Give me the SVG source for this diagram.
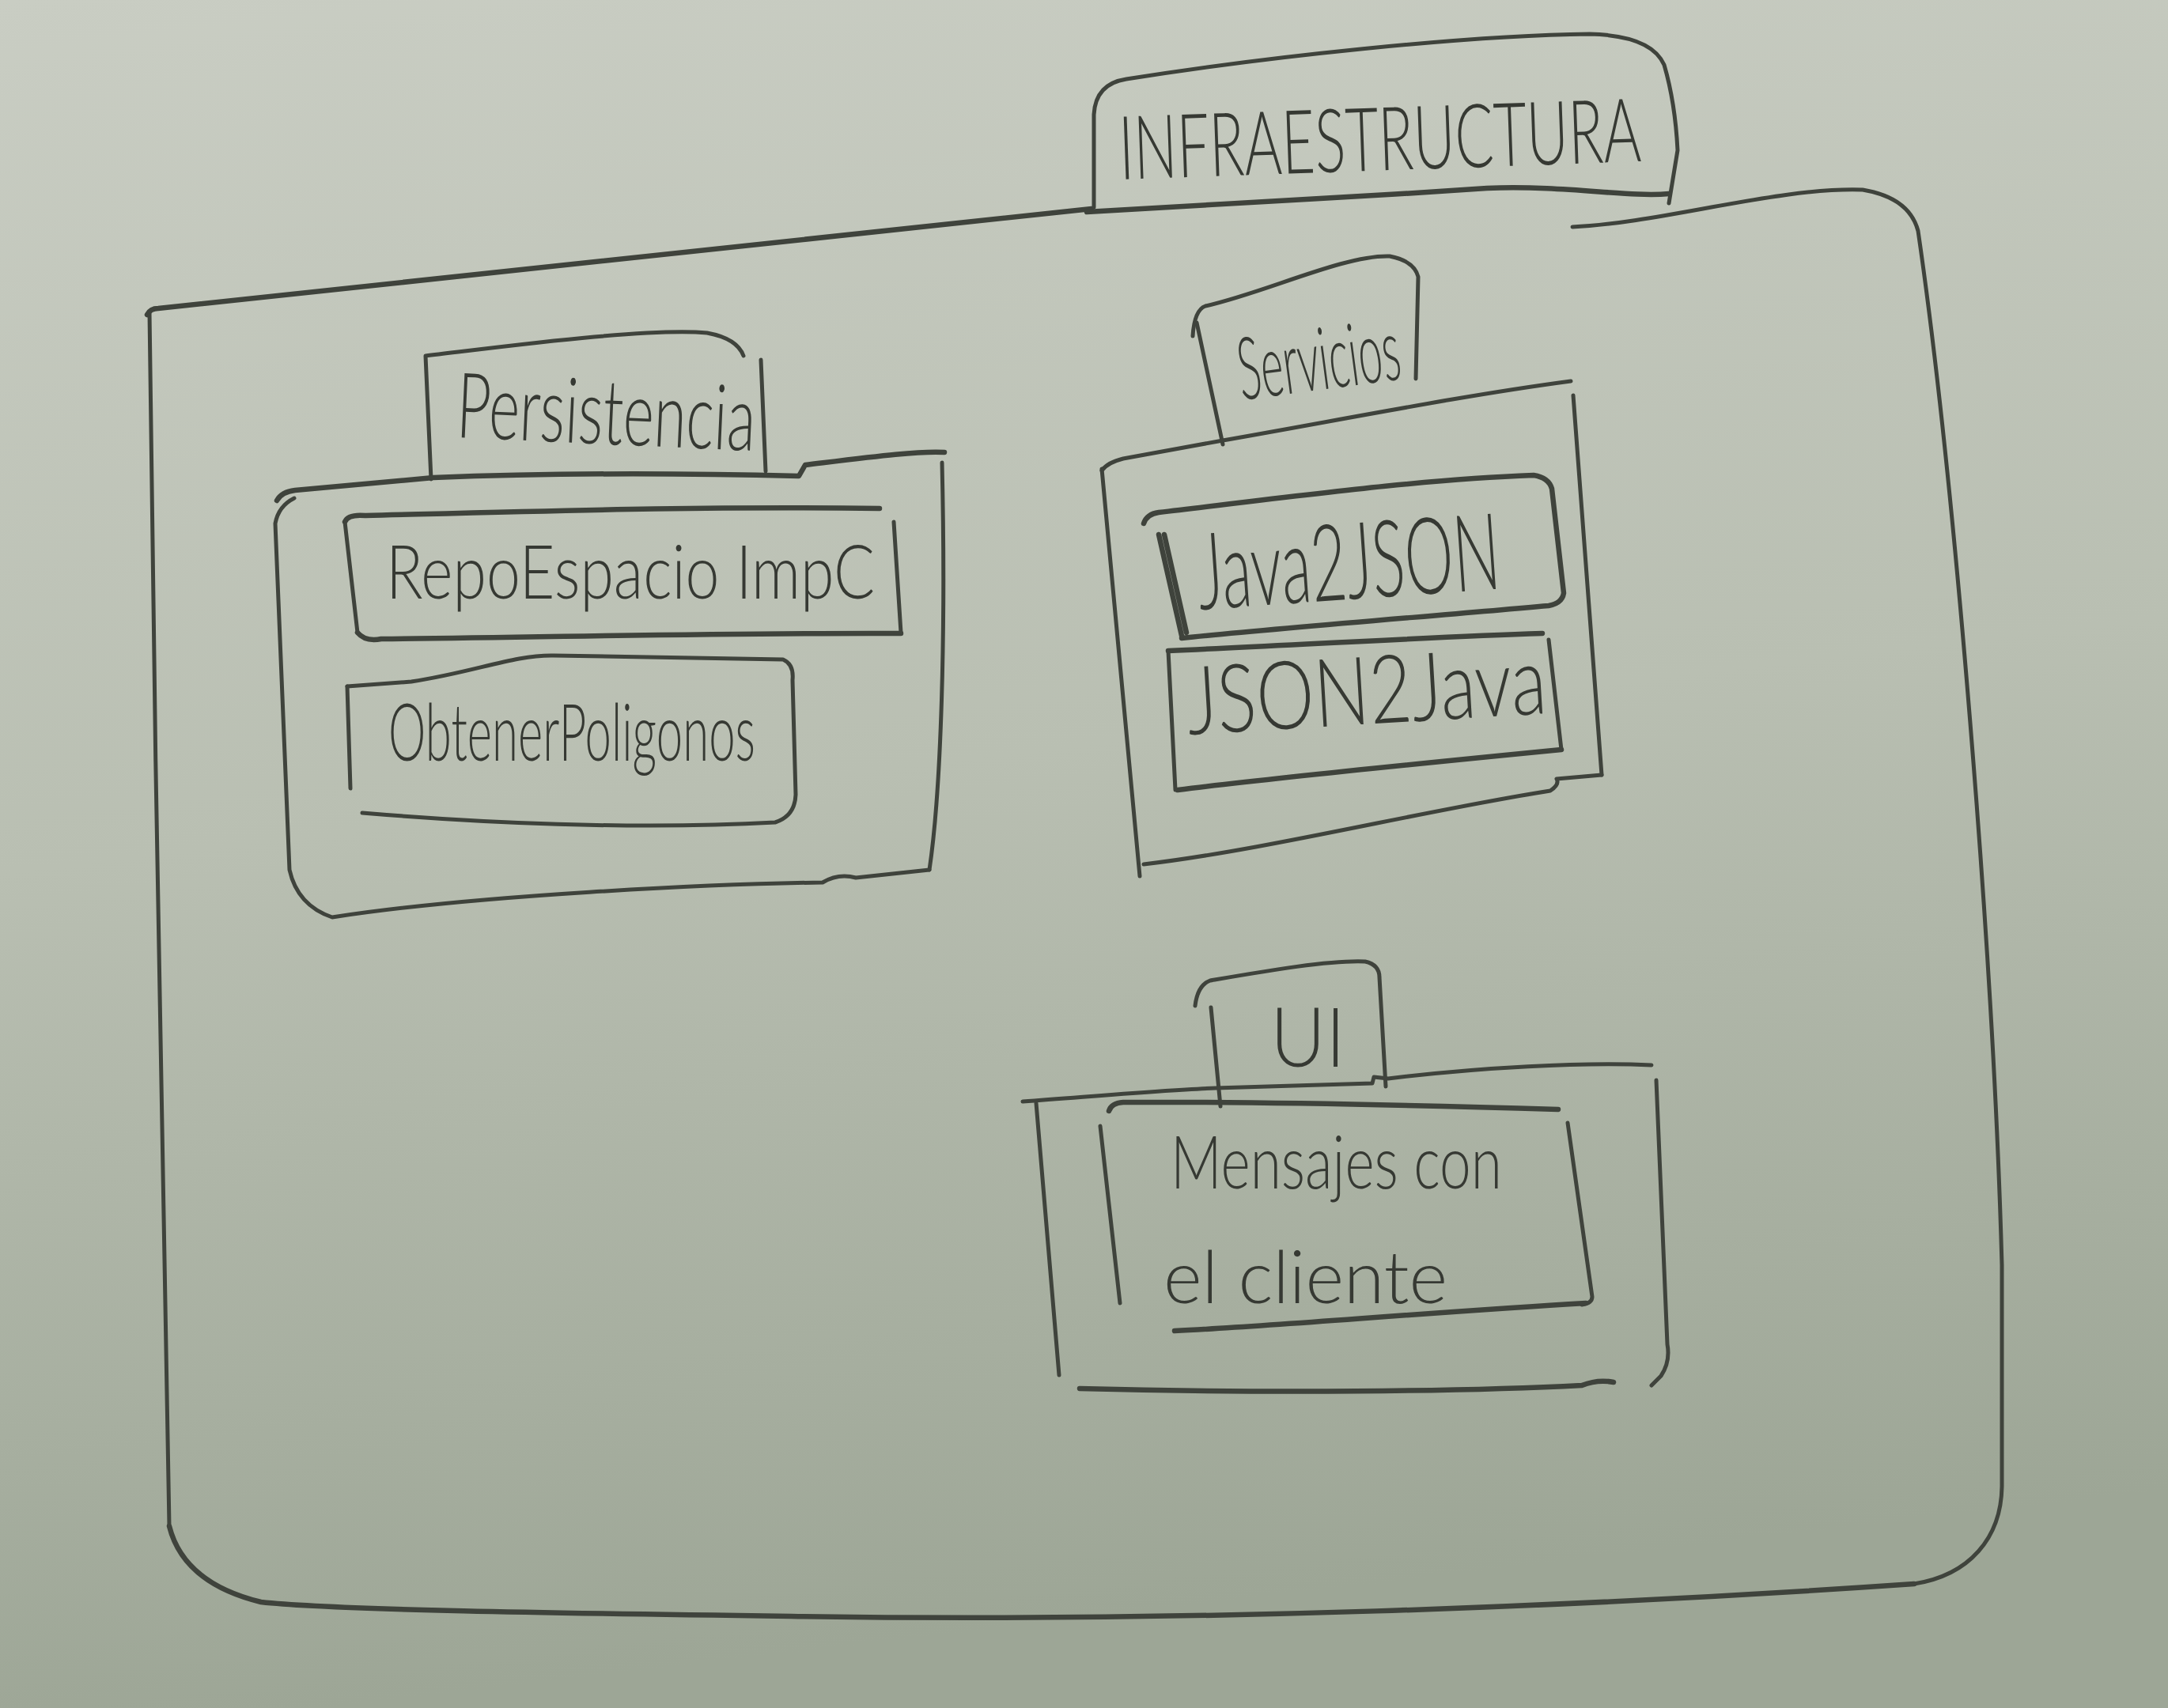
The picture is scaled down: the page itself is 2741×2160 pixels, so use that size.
<svg xmlns="http://www.w3.org/2000/svg" width="2741" height="2160" viewBox="0 0 2741 2160">
<defs>
<linearGradient id="paper" x1="0" y1="0" x2="0.15" y2="1">
<stop offset="0" stop-color="#c9cdc3"/>
<stop offset="0.5" stop-color="#b9bfb2"/>
<stop offset="1" stop-color="#9da696"/>
</linearGradient>
<style>
.ln{fill:none;stroke:#3f433c;stroke-width:5;stroke-linecap:round;stroke-linejoin:round}
.bold{stroke-width:6.5}
.t{font-family:Lato,"Liberation Sans",sans-serif;font-weight:300;fill:#363933}
</style>
</defs>
<rect width="2741" height="2160" fill="url(#paper)"/>

<g id="infraestructura">
<path class="ln bold" d="M186,398 Q190,390 200,390 L1380,264"/>
<path class="ln" d="M1383,262 L1383,145 Q1385,106 1424,100 C1600,72 1850,45 2010,43 Q2088,45 2104,82 Q2118,130 2121,190 L2110,257"/>
<path class="ln bold" d="M1374,268 C1500,262 1700,250 1880,238 C1980,234 2060,250 2110,245"/>
<path class="ln" d="M1988,287 C2100,282 2250,236 2355,240 Q2414,250 2425,292 C2470,600 2520,1200 2531,1600 L2531,1880 C2530,1945 2490,1992 2420,2003"/>
<path class="ln bold" d="M2420,2003 C2000,2032 1500,2052 1000,2044 C700,2040 420,2036 330,2026 Q232,2002 214,1930"/>
<path class="ln" d="M214,1930 C205,1500 195,900 189,395"/>
<text class="t" x="1416" y="227" font-size="112" textLength="660" lengthAdjust="spacingAndGlyphs" transform="rotate(-2 1416 227)">INFRAESTRUCTURA</text>
</g>

<g id="persistencia">
<path class="ln" d="M545,606 L538,450 C640,438 820,414 894,421 Q932,428 940,450"/>
<path class="ln" d="M962,455 L968,596"/>
<path class="ln bold" d="M350,633 Q356,622 373,620 L548,604 C700,598 850,598 1010,602 L1018,588 C1100,578 1160,570 1194,572"/>
<path class="ln" d="M1191,585 C1196,800 1190,1000 1175,1100"/>
<path class="ln" d="M372,630 Q352,640 348,662 L366,1100 Q376,1145 420,1160 C600,1132 900,1118 1040,1116 Q1060,1104 1082,1110 L1175,1100"/>
<text class="t" x="576" y="553" font-size="115" textLength="378" lengthAdjust="spacingAndGlyphs" transform="rotate(2.6 576 553)">Persistencia</text>
</g>

<g id="repoEspacio">
<path class="ln bold" d="M436,660 Q440,650 462,652 C700,646 900,640 1112,643"/>
<path class="ln" d="M1130,660 L1139,800"/>
<path class="ln bold" d="M452,800 Q462,812 482,808 C700,806 900,800 1139,801"/>
<path class="ln" d="M436,660 L452,800"/>
<text class="t" x="488" y="757" font-size="95" textLength="618" lengthAdjust="spacingAndGlyphs">RepoEspacio ImpC</text>
</g>

<g id="obtenerPoligonos">
<path class="ln" d="M439,868 L520,862 C600,850 650,828 700,829 L990,834 Q1004,840 1002,860 L1006,1005 Q1005,1032 980,1040 C800,1050 600,1040 458,1028"/>
<path class="ln" d="M439,868 L443,997"/>
<text class="t" x="491" y="962" font-size="100" textLength="464" lengthAdjust="spacingAndGlyphs">ObtenerPoligonos</text>
</g>

<g id="servicios">
<path class="ln" d="M1546,562 L1513,408"/>
<path class="ln" d="M1508,425 Q1510,392 1524,387 C1600,370 1700,322 1757,324 Q1788,330 1793,350 L1790,479"/>
<path class="ln" d="M1393,595 Q1400,585 1420,580 L1546,557 C1700,530 1850,500 1986,482"/>
<path class="ln" d="M1989,500 L2025,980"/>
<path class="ln" d="M1446,1093 C1600,1075 1800,1025 1960,1000 Q1972,992 1968,985 L2025,980"/>
<path class="ln" d="M1393,593 L1441,1108"/>
<text class="t" x="1570" y="506" font-size="110" textLength="206" lengthAdjust="spacingAndGlyphs" transform="rotate(-7.5 1570 506)">Servicios</text>
</g>

<g id="java2json">
<path class="ln bold" d="M1446,662 Q1450,650 1465,648 C1650,626 1800,606 1939,601 Q1958,604 1962,618 L1977,750 Q1975,763 1958,766 C1800,780 1600,796 1494,807"/>
<path class="ln bold" d="M1465,676 L1494,804 M1472,676 L1500,800"/>
<text class="t" x="1517" y="771" font-size="135" textLength="383" lengthAdjust="spacingAndGlyphs" transform="rotate(-4 1517 771)">Java2JSON</text>
</g>

<g id="json2java">
<path class="ln bold" d="M1477,823 C1650,815 1800,806 1950,801"/>
<path class="ln" d="M1958,809 L1974,948"/>
<path class="ln bold" d="M1974,948 C1800,965 1600,985 1489,999"/>
<path class="ln" d="M1477,823 L1486,999"/>
<text class="t" x="1503" y="929" font-size="120" textLength="455" lengthAdjust="spacingAndGlyphs" transform="rotate(-3.4 1503 929)">JSON2Java</text>
</g>

<g id="ui">
<path class="ln" d="M1543,1399 L1531,1274"/>
<path class="ln" d="M1511,1272 Q1514,1246 1530,1240 C1600,1228 1680,1214 1726,1216 Q1744,1220 1744,1236 L1752,1374"/>
<path class="ln" d="M1293,1393 C1400,1385 1480,1378 1537,1376 L1735,1370 L1737,1362 L1755,1364 C1870,1350 2000,1343 2088,1347"/>
<path class="ln" d="M2094,1366 L2108,1700 Q2112,1722 2100,1740 L2088,1752"/>
<path class="ln bold" d="M1365,1756 C1600,1762 1850,1760 2000,1752 Q2020,1744 2040,1748"/>
<path class="ln" d="M1310,1395 L1339,1739"/>
<text class="t" x="1606" y="1349" font-size="105" textLength="95" lengthAdjust="spacingAndGlyphs">UI</text>
</g>

<g id="mensajes">
<path class="ln bold" d="M1402,1405 Q1405,1395 1420,1394 C1600,1393 1800,1398 1970,1403"/>
<path class="ln" d="M1391,1424 L1416,1648"/>
<path class="ln" d="M1982,1420 L2013,1640 Q2013,1648 2000,1650"/>
<path class="ln bold" d="M2005,1648 C1800,1660 1600,1678 1485,1683"/>
<text class="t" x="1480" y="1503" font-size="93" textLength="419" lengthAdjust="spacingAndGlyphs">Mensajes con</text>
<text class="t" x="1471" y="1648" font-size="92" textLength="359" lengthAdjust="spacingAndGlyphs">el cliente</text>
</g>

<g id="connectors"/>
</svg>
